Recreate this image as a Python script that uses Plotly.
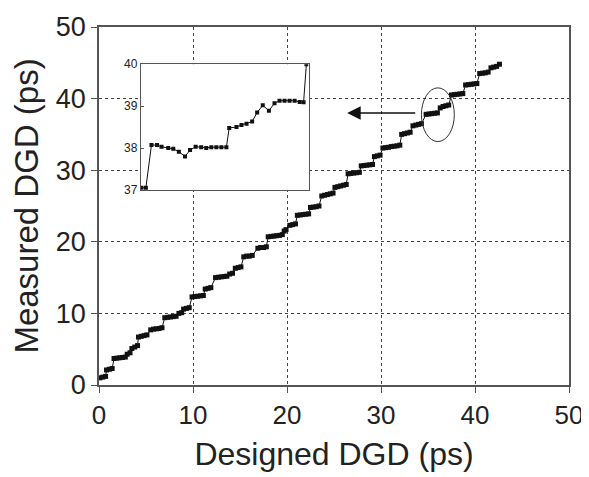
import plotly.graph_objects as go

# Main series: designed DGD (ps) vs measured DGD (ps)
designed = [0.1, 0.4, 0.7, 0.8, 1.1, 1.4, 1.6, 1.9, 2.2, 2.5, 2.8, 3.0, 3.3, 3.5, 3.8, 4.1,
            4.2, 4.5, 4.8, 5.1, 5.5, 5.8, 6.1, 6.4, 6.7, 7.0, 7.3, 7.6, 7.9, 8.2, 8.5, 8.8,
            9.0, 9.3, 9.6, 9.9, 10.2, 10.5, 10.8, 11.1, 11.3, 11.6, 11.9, 12.4, 12.7, 13.0,
            13.3, 13.6, 13.9, 14.2, 14.5, 14.8, 15.1, 15.4, 15.7, 16.0, 16.3, 16.9, 17.2,
            17.5, 17.8, 18.0, 18.3, 18.6, 18.9, 19.2, 19.5, 19.7, 19.9, 20.3, 20.6, 20.9,
            21.1, 21.4, 21.7, 22.0, 22.3, 22.5, 22.8, 23.1, 23.4, 23.7, 24.0, 24.3, 24.6,
            24.9, 25.1, 25.4, 25.7, 26.0, 26.3, 26.5, 26.8, 27.1, 27.4, 27.7, 27.9, 28.2,
            28.5, 28.8, 29.1, 29.3, 29.6, 29.9, 30.2, 30.5, 30.8, 31.1, 31.4, 31.7, 32.0,
            32.2, 32.5, 32.8, 33.1, 33.4, 33.7, 34.0, 34.3, 34.8, 35.1, 35.4, 35.7, 36.0,
            36.3, 36.6, 36.9, 37.2, 37.5, 37.8, 38.1, 38.4, 38.7, 39.0, 39.3, 39.6, 39.9,
            40.2, 40.5, 40.8, 41.1, 41.4, 41.7, 42.0, 42.3, 42.6]
measured = [1.0, 1.1, 1.2, 2.1, 2.2, 2.3, 3.7, 3.75, 3.8, 3.85, 3.9, 4.3, 4.5, 5.1, 5.3, 5.5,
            6.7, 6.8, 6.9, 7.0, 7.7, 7.8, 7.85, 7.9, 8.0, 9.4, 9.45, 9.5, 9.55, 9.6, 10.0, 10.1,
            10.6, 10.7, 10.8, 12.3, 12.35, 12.4, 12.45, 12.5, 13.4, 13.5, 13.6, 15.0, 15.05, 15.1,
            15.15, 15.2, 15.5, 15.6, 16.3, 16.4, 16.5, 17.9, 18.0, 18.0, 18.1, 19.1, 19.2,
            19.2, 19.3, 20.7, 20.75, 20.8, 20.85, 20.9, 21.0, 21.5, 21.7, 22.3, 22.4, 22.5,
            23.7, 23.75, 23.8, 23.85, 23.9, 24.8, 24.85, 24.9, 25.0, 26.4, 26.5, 26.6, 26.7,
            26.8, 27.6, 27.7, 27.8, 27.9, 28.0, 29.5, 29.55, 29.6, 29.65, 29.7, 30.6, 30.65,
            30.7, 30.75, 30.8, 31.9, 32.0, 32.1, 33.1, 33.15, 33.2, 33.3, 33.35, 33.4, 33.5,
            35.0, 35.1, 35.2, 35.3, 36.2, 36.3, 36.4, 36.5, 37.8, 37.85, 37.9, 37.95, 38.0,
            38.7, 38.9, 39.0, 39.1, 40.5, 40.55, 40.6, 40.65, 40.7, 41.9, 41.95, 42.0, 42.05,
            42.1, 43.5, 43.55, 43.6, 43.7, 44.3, 44.4, 44.5, 44.8]

# Inset (zoom of the circled region)
inset_designed = [34.61, 34.69, 34.79, 34.89, 34.97, 35.09, 35.18, 35.28, 35.39, 35.48, 35.58,
                  35.68, 35.77, 35.86, 35.95, 36.04, 36.13, 36.18, 36.31, 36.40, 36.49, 36.59,
                  36.68, 36.78, 36.89, 36.99, 37.08, 37.17, 37.26, 37.35, 37.44, 37.51, 37.56]
inset_measured = [37.05, 37.05, 38.07, 38.07, 38.03, 38.0, 37.98, 37.91, 37.8, 37.95, 38.03,
                  38.02, 38.0, 38.02, 38.02, 38.02, 38.02, 38.48, 38.5, 38.55, 38.58, 38.63,
                  38.85, 39.02, 38.89, 39.07, 39.13, 39.13, 39.13, 39.13, 39.1, 39.09, 40.0]

main_ticks = [0, 10, 20, 30, 40, 50]
inset_ticks = [37, 38, 39, 40]

FONT = "Liberation Sans, Arial, sans-serif"
AX = "#555555"

fig = go.Figure()
fig.add_trace(go.Scatter(
    x=designed, y=measured, mode="lines+markers",
    line=dict(color="#111111", width=1),
    marker=dict(symbol="square", size=5, color="#111111", line=dict(width=0)),
    showlegend=False, cliponaxis=False, xaxis="x", yaxis="y"))

fig.add_trace(go.Scatter(
    x=inset_designed, y=inset_measured, mode="lines+markers",
    line=dict(color="#111111", width=1),
    marker=dict(symbol="square", size=4, color="#111111", line=dict(width=0)),
    showlegend=False, xaxis="x2", yaxis="y2"))

fig.update_layout(
    width=581, height=469,
    margin=dict(l=91, r=20, t=13, b=92),
    paper_bgcolor="white", plot_bgcolor="white",
    font=dict(family=FONT, color="#222222"),
    xaxis=dict(range=[0, 50], tickvals=main_ticks, ticks="outside", ticklen=6,
               tickcolor=AX, showline=True, linecolor=AX, linewidth=1.5, mirror=True,
               showgrid=True, gridcolor="#444444", griddash="dot", gridwidth=1,
               zeroline=False, tickfont=dict(size=26), automargin=False,
               title=dict(text="Designed DGD (ps)", font=dict(size=32), standoff=14),
               domain=[0, 1]),
    yaxis=dict(range=[0, 50], tickvals=main_ticks, ticks="outside", ticklen=6,
               tickcolor=AX, showline=True, linecolor=AX, linewidth=1.5, mirror=True,
               showgrid=True, gridcolor="#444444", griddash="dot", gridwidth=1,
               zeroline=False, tickfont=dict(size=27), automargin=False,
               title=dict(text="Measured DGD (ps)", font=dict(size=33), standoff=8),
               domain=[0, 1]),
    xaxis2=dict(range=[34.6, 37.6], domain=[0.089, 0.446], anchor="y2",
                showticklabels=False, ticks="", showgrid=False, zeroline=False,
                showline=True, linecolor=AX, linewidth=1.2, mirror=True),
    yaxis2=dict(range=[37, 40], domain=[0.545, 0.896], anchor="x2",
                tickvals=inset_ticks, ticks="inside", ticklen=3, tickcolor=AX,
                showgrid=False, zeroline=False, tickfont=dict(size=12),
                showline=True, linecolor=AX, linewidth=1.2, mirror=True),
)

# Ellipse marking the zoomed region
fig.add_shape(type="circle", xref="x", yref="y", x0=34.3, x1=37.8, y0=34.0, y1=41.5,
              line=dict(color="#333333", width=1))

# Arrow pointing from the ellipse toward the inset
fig.add_annotation(x=26.4, y=38.0, ax=33.8, ay=38.0, xref="x", yref="y",
                   axref="x", ayref="y", text="", showarrow=True,
                   arrowhead=2, arrowsize=1.8, arrowwidth=1.5, arrowcolor="#111111")

fig.write_html("out.html")
